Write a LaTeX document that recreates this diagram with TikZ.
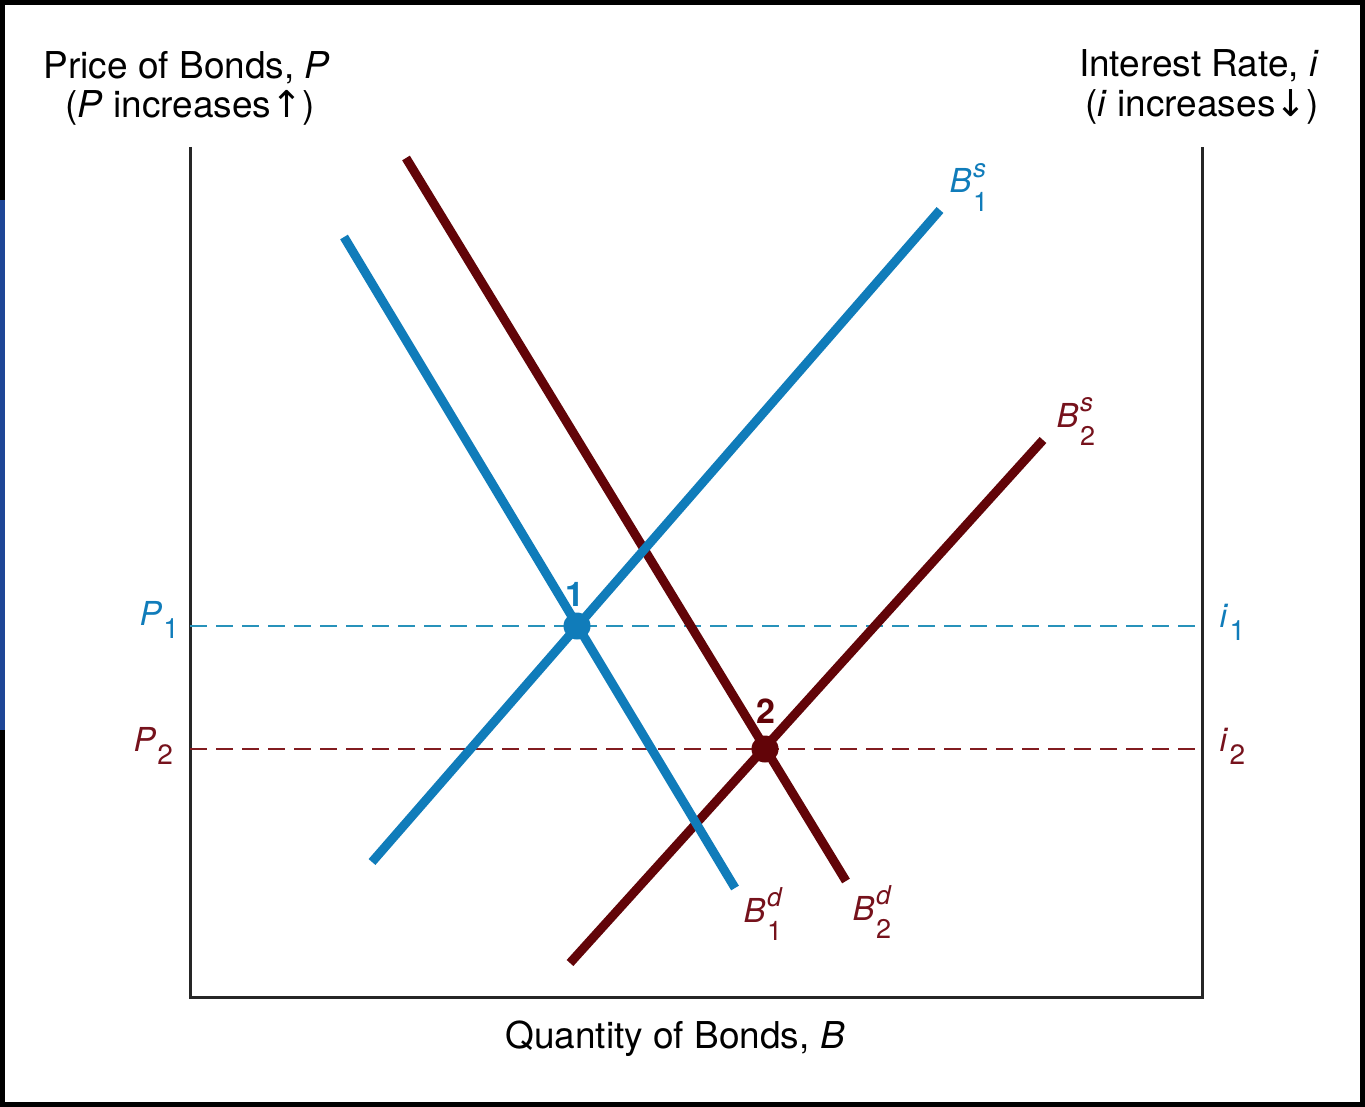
\documentclass[tikz,border=0pt]{standalone}
\usepackage{fontspec}
\setmainfont{TeX Gyre Heros}
\newfontfamily\arrowfont{DejaVu Sans}
\definecolor{bondblue}{RGB}{16,124,186}
\definecolor{dashblue}{RGB}{40,146,186}
\definecolor{bondred}{RGB}{98,4,8}
\definecolor{dashred}{RGB}{130,28,32}
\definecolor{labred}{RGB}{118,18,28}
\definecolor{edgeblue}{RGB}{30,70,150}
% curve label: letter, superscript, lowered subscript
\newcommand{\curvelab}[3]{\textit{#1}\kern0.05em\rlap{\raisebox{0.48em}{\fontsize{26}{26}\selectfont\textit{#2}}}\raisebox{-0.56em}{\fontsize{27}{27}\selectfont #3}}
% level label: letter and lowered subscript
\newcommand{\levlab}[2]{\textit{#1}\kern0.04em\raisebox{-0.42em}{\fontsize{28}{28}\selectfont #2}}

\begin{document}
\begin{tikzpicture}[x=1pt,y=-1pt,
  axis/.style={line width=3pt,black!85,line join=miter},
  bluecurve/.style={line width=9pt,bondblue},
  redcurve/.style={line width=9pt,bondred},
  level/.style={line width=2.5pt,dash pattern=on 17pt off 9pt},
  eqdot/.style={circle,inner sep=0pt,minimum size=27pt},
  title/.style={font=\fontsize{37}{44}\selectfont,anchor=base},
  tag/.style={font=\fontsize{33}{38}\selectfont,anchor=base west},
  ptno/.style={font=\bfseries\fontsize{34}{34}\selectfont,anchor=base}]
  \useasboundingbox (0,0) rectangle (1365,1107);
  % frame
  \draw[line width=5pt] (2.5,2.5) rectangle (1362.5,1104.5);
  \draw[line width=5pt,edgeblue] (2.5,200) -- (2.5,730);
  % axes
  \coordinate (Ptop) at (190,147);
  \coordinate (O)    at (190,997);
  \coordinate (Iend) at (1202,997);
  \coordinate (Itop) at (1202,147);
  \draw[axis] (Ptop) -- (O) -- (Iend) -- (Itop);
  % price / interest levels
  \coordinate (P1) at (190,626);  \coordinate (I1) at (1202,626);
  \coordinate (P2) at (190,749);  \coordinate (I2) at (1202,749);
  \draw[level,dashblue] (P1) -- (I1);
  \draw[level,dashred]  (P2) -- (I2);
  % demand and supply curves
  \coordinate (d1a) at (344,237);  \coordinate (d1b) at (735,888);
  \coordinate (s1a) at (372,862);  \coordinate (s1b) at (940,210);
  \coordinate (d2a) at (406,158);  \coordinate (d2b) at (846,881);
  \coordinate (s2a) at (570,963);  \coordinate (s2b) at (1043,440);
  \draw[redcurve]  (d2a) -- (d2b);
  \draw[redcurve]  (s2a) -- (s2b);
  \draw[bluecurve] (d1a) -- (d1b);
  \draw[bluecurve] (s1a) -- (s1b);
  % equilibrium points
  \node[eqdot,fill=bondblue] (e1) at (577,626) {};
  \node[eqdot,fill=bondred]  (e2) at (765,749) {};
  \node[ptno,bondblue] (n1) at (575,606) {1};
  \node[ptno,bondred]  (n2) at (766,723) {2};
  % curve labels
  \node[tag,bondblue] (ls1) at (946,193) {\curvelab{B}{s}{1}};
  \node[tag,labred]   (ls2) at (1053,427) {\curvelab{B}{s}{2}};
  \node[tag,labred]   (ld1) at (740,922) {\curvelab{B}{d}{1}};
  \node[tag,labred]   (ld2) at (849,920) {\curvelab{B}{d}{2}};
  % level labels
  \node[tag,bondblue] (lp1) at (136,625) {\levlab{P}{1}};
  \node[tag,labred]   (lp2) at (130,751) {\levlab{P}{2}};
  \node[tag,bondblue] (li1) at (1216,627) {\levlab{i}{1}};
  \node[tag,labred]   (li2) at (1216,751) {\levlab{i}{2}};
  % axis titles
  \node[title] (ptitle) at (187,79)   {Price of Bonds, \textit{P}};
  \node[title] (pnote)  at (190,118)  {(\textit{P} increases{\arrowfont ↑})};
  \node[title] (ititle) at (1199,77)  {Interest Rate, \textit{i}};
  \node[title] (inote)  at (1202,117) {(\textit{i} increases{\arrowfont ↓})};
  \node[title] (qtitle) at (675,1048) {Quantity of Bonds, \textit{B}};
\end{tikzpicture}
\end{document}
